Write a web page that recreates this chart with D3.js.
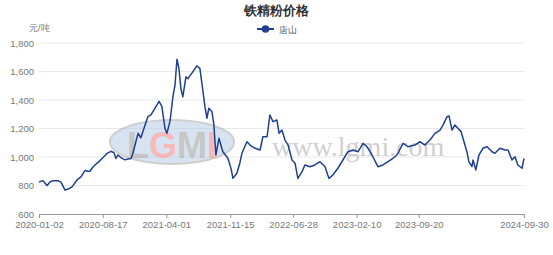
<!DOCTYPE html>
<html>
<head>
<meta charset="utf-8">
<script src="https://cdn.jsdelivr.net/npm/d3@7"></script>
<style>
  body { margin: 0; background: #fff; }
  svg { display: block; font-family: "Liberation Sans", Arial, sans-serif; }
</style>
</head>
<body>
<div id="chart"></div>
<script>
// Data: 唐山 iron concentrate price (元/吨)
const dates = [
  "2020-01-02","2020-01-16","2020-01-31","2020-02-10","2020-02-21","2020-03-10","2020-03-21",
  "2020-04-04","2020-04-15","2020-04-29","2020-05-17","2020-05-31","2020-06-14","2020-06-25",
  "2020-07-02","2020-07-13","2020-07-20","2020-08-07","2020-08-25","2020-09-01","2020-09-15",
  "2020-09-26","2020-10-03","2020-10-10","2020-10-21","2020-11-04","2020-11-15","2020-11-26",
  "2020-12-03","2020-12-10","2020-12-21","2020-12-31","2021-01-15","2021-01-25","2021-02-05",
  "2021-02-19","2021-03-06","2021-03-16","2021-03-27","2021-04-03","2021-04-14","2021-04-25",
  "2021-05-02","2021-05-09","2021-05-16","2021-05-23","2021-05-30","2021-06-10","2021-06-17",
  "2021-07-02","2021-07-19","2021-07-30","2021-08-10","2021-08-17","2021-08-24","2021-08-31",
  "2021-09-11","2021-09-18","2021-09-25","2021-10-06","2021-10-20","2021-11-07","2021-11-18",
  "2021-11-25","2021-12-09","2021-12-20","2021-12-27","2022-01-14","2022-01-25","2022-02-12",
  "2022-03-02","2022-03-12","2022-03-27","2022-04-06","2022-04-17","2022-05-01","2022-05-09",
  "2022-05-19","2022-05-30","2022-06-10","2022-06-24","2022-07-05","2022-07-15","2022-07-30",
  "2022-08-09","2022-08-27","2022-09-14","2022-10-02","2022-10-20","2022-11-03","2022-11-17",
  "2022-12-05","2022-12-23","2023-01-10","2023-01-28","2023-02-15","2023-03-05","2023-03-19",
  "2023-03-30","2023-04-09","2023-04-27","2023-05-15","2023-06-02","2023-06-20","2023-07-04",
  "2023-07-26","2023-08-12","2023-09-06","2023-09-24","2023-10-12","2023-10-30","2023-11-17",
  "2023-12-05","2023-12-16","2023-12-30","2024-01-06","2024-01-17","2024-01-27","2024-02-07",
  "2024-02-18","2024-02-25","2024-03-10","2024-03-17","2024-03-28","2024-04-01","2024-04-11",
  "2024-04-22","2024-05-06","2024-05-21","2024-06-08","2024-06-18","2024-07-06","2024-07-24",
  "2024-08-04","2024-08-18","2024-08-29","2024-09-08","2024-09-23","2024-09-30"
];
const prices = [
  825, 834, 800, 825, 834, 834, 822,
  768, 775, 790, 839, 860, 905, 900,
  900, 930, 944, 975, 1010, 1026, 1040,
  1030, 990, 1014, 995, 980, 986, 990,
  1030, 1084, 1166, 1135, 1225, 1283, 1295,
  1342, 1390, 1355, 1201, 1166, 1250, 1430,
  1505, 1686, 1622, 1480, 1423, 1563, 1550,
  1590, 1640, 1620, 1458, 1353, 1272, 1342,
  1318, 1225, 1014, 1131, 1037, 991, 920,
  850, 886, 960, 1026, 1107, 1084, 1061,
  1049, 1142, 1142, 1295, 1248, 1260, 1166,
  1189, 1119, 1084, 979, 956, 850, 897,
  944, 932, 944, 967, 932, 850, 874,
  921, 979, 1037, 1049, 1037, 1096, 1072,
  1037, 1002, 932, 944, 967, 991, 1014,
  1096, 1072, 1084, 1107, 1084, 1119, 1166,
  1189, 1225, 1283, 1288, 1189, 1225, 1201,
  1178, 1131, 1037, 967, 932, 979, 909,
  1014, 1061, 1072, 1037, 1026, 1061, 1049,
  1049, 979, 1002, 944, 921, 991
];
const xTickLabels = ["2020-01-02","2020-08-17","2021-04-01","2021-11-15","2022-06-28","2023-02-10","2023-09-20","2024-09-30"];
const yTicks = [600, 800, 1000, 1200, 1400, 1600, 1800];
const seriesName = "唐山";
const chartTitle = "铁精粉价格";
const unitLabel = "元/吨";

const width = 553, height = 255;
const margin = { top: 43, right: 29, bottom: 41, left: 39 };
const parse = d3.timeParse("%Y-%m-%d");

const data = dates.map((d, i) => ({ date: parse(d), value: prices[i] }));

const svg = d3.select("#chart").append("svg")
  .attr("width", width)
  .attr("height", height);

const x = d3.scaleTime()
  .domain([parse(xTickLabels[0]), parse(xTickLabels[xTickLabels.length - 1])])
  .range([margin.left, width - margin.right]);

const y = d3.scaleLinear()
  .domain([600, 1800])
  .range([height - margin.bottom, margin.top]);

// grid lines
svg.append("g")
  .selectAll("line")
  .data(yTicks.slice(1))
  .enter().append("line")
  .attr("x1", margin.left)
  .attr("x2", width - margin.right)
  .attr("y1", d => y(d))
  .attr("y2", d => y(d))
  .attr("stroke", "#e8e8e8")
  .attr("stroke-width", 1);

// y axis labels
svg.append("g")
  .attr("transform", `translate(${margin.left},0)`)
  .call(d3.axisLeft(y).tickValues(yTicks).tickSize(0).tickPadding(5).tickFormat(d3.format(",")))
  .call(g => g.select(".domain").remove())
  .call(g => g.selectAll("text").attr("fill", "#777").attr("font-size", 9.5));

// x axis
svg.append("g")
  .attr("transform", `translate(0,${height - margin.bottom})`)
  .call(d3.axisBottom(x).tickValues(xTickLabels.map(parse)).tickSize(4).tickPadding(3)
    .tickFormat(d3.timeFormat("%Y-%m-%d")))
  .call(g => g.select(".domain").attr("stroke", "#999"))
  .call(g => g.selectAll("line").attr("stroke", "#999"))
  .call(g => g.selectAll("text").attr("fill", "#777").attr("font-size", 9.5));

// watermark (logo + site)
const wm = svg.append("g").attr("opacity", 0.55);
wm.append("ellipse")
  .attr("cx", 172).attr("cy", 142).attr("rx", 62).attr("ry", 22)
  .attr("fill", "#b9cde6").attr("stroke", "#a8a8a8").attr("stroke-width", 2);
wm.append("text")
  .attr("x", 172).attr("y", 158)
  .attr("text-anchor", "middle")
  .attr("font-family", "Liberation Sans, Arial, sans-serif")
  .attr("font-weight", "bold")
  .attr("font-size", 36)
  .selectAll("tspan")
  .data([["L", "#9a9a9a"], ["G", "#f08080"], ["M", "#9a9a9a"], ["I", "#f08080"]])
  .enter().append("tspan")
  .attr("fill", d => d[1])
  .text(d => d[0]);
svg.append("text")
  .attr("x", 272).attr("y", 156)
  .attr("font-family", "Liberation Serif, serif")
  .attr("font-size", 28)
  .attr("fill", "#c4c4c4")
  .attr("opacity", 0.8)
  .text("www.lgmi.com");

// price line
const line = d3.line()
  .x(d => x(d.date))
  .y(d => y(d.value));

svg.append("path")
  .datum(data)
  .attr("fill", "none")
  .attr("stroke", "#1f3f8f")
  .attr("stroke-width", 1.5)
  .attr("stroke-linejoin", "round")
  .attr("d", line);

// title
svg.append("text")
  .attr("x", 276).attr("y", 15)
  .attr("text-anchor", "middle")
  .attr("font-size", 12.5)
  .attr("font-weight", "bold")
  .attr("fill", "#333")
  .text(chartTitle);

// unit label
svg.append("text")
  .attr("x", 29).attr("y", 31)
  .attr("font-size", 9)
  .attr("fill", "#777")
  .text(unitLabel);

// legend
const legend = svg.append("g").attr("transform", "translate(257,29)");
legend.append("line")
  .attr("x1", 0).attr("x2", 17).attr("y1", 0).attr("y2", 0)
  .attr("stroke", "#1f3f8f").attr("stroke-width", 2);
legend.append("circle")
  .attr("cx", 8.5).attr("cy", 0).attr("r", 3.8)
  .attr("fill", "#1f3f8f");
legend.append("text")
  .attr("x", 22).attr("y", 3.5)
  .attr("font-size", 9)
  .attr("fill", "#555")
  .text(seriesName);
</script>
</body>
</html>
